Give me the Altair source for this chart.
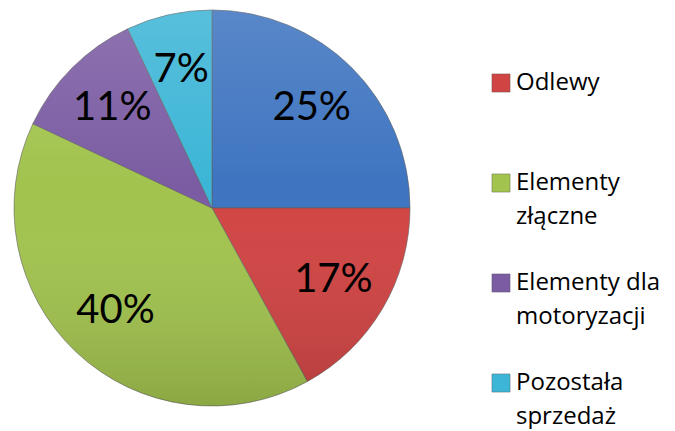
import altair as alt
import pandas as pd

categories = ["Pozostałe", "Odlewy", "Elementy złączne", "Elementy dla motoryzacji", "Pozostała sprzedaż"]
shares = [25, 17, 40, 11, 7]
labels = ["25%", "17%", "40%", "11%", "7%"]
colors = ["#3E74C0", "#D04443", "#A2C34E", "#7B5CA3", "#3CB5D6"]
legend_items = ["Odlewy", "Elementy złączne", "Elementy dla motoryzacji", "Pozostała sprzedaż"]
legend_texts = ["Odlewy", "Elementy\nzłączne", "Elementy dla\nmotoryzacji", "Pozostała\nsprzedaż"]

df = pd.DataFrame({"kat": categories, "udzial": shares, "etykieta": labels,
                   "kolejnosc": list(range(len(categories)))})
leg = pd.DataFrame({"kat": legend_items, "tekst": legend_texts, "poz": list(range(len(legend_items)))})
shade = pd.DataFrame({"udzial": [sum(shares)]})

FONT = "Lato"
LFONT = "Open Sans"

cscale = alt.Scale(domain=categories, range=colors)

base = alt.Chart(df).encode(
    theta=alt.Theta("udzial:Q", stack=True),
    order=alt.Order("kolejnosc:Q"),
)

pie = base.mark_arc(outerRadius=198, stroke="#5f5f5f", strokeWidth=0.6).encode(
    color=alt.Color("kat:N", scale=cscale, legend=None)
)

grad = alt.Gradient(
    gradient="linear", x1=0, x2=0, y1=0, y2=1,
    stops=[
        alt.GradientStop(color="rgba(255,255,255,0.14)", offset=0),
        alt.GradientStop(color="rgba(255,255,255,0.0)", offset=0.45),
        alt.GradientStop(color="rgba(0,0,0,0.14)", offset=1),
    ],
)
overlay = alt.Chart(shade).mark_arc(outerRadius=198, color=grad, strokeWidth=0).encode(
    theta=alt.Theta("udzial:Q", stack=True)
)

text = base.mark_text(radius=141, font=FONT, fontSize=40, color="black").encode(text="etykieta:N")

ypos = alt.Y("poz:Q", axis=None, scale=alt.Scale(domain=[-0.74, 3.24], reverse=True, nice=False, zero=False))

leg_sym = alt.Chart(leg).mark_square(size=330, opacity=1, stroke="#555555", strokeWidth=0.4).encode(
    x=alt.value(493),
    y=ypos,
    color=alt.Color("kat:N", scale=cscale, legend=None),
)
leg_txt = alt.Chart(leg).mark_text(
    align="left", baseline="middle", font=LFONT, fontSize=24, lineHeight=34,
    lineBreak="\n", color="black"
).encode(
    x=alt.value(508),
    y=ypos,
    text="tekst:N",
)

chart = (
    alt.layer(pie, overlay, text, leg_sym, leg_txt)
    .properties(width=408, height=398, padding=0)
    .configure_view(stroke=None)
)

chart.save("out.html", embed_options={"renderer": "svg", "actions": False})
